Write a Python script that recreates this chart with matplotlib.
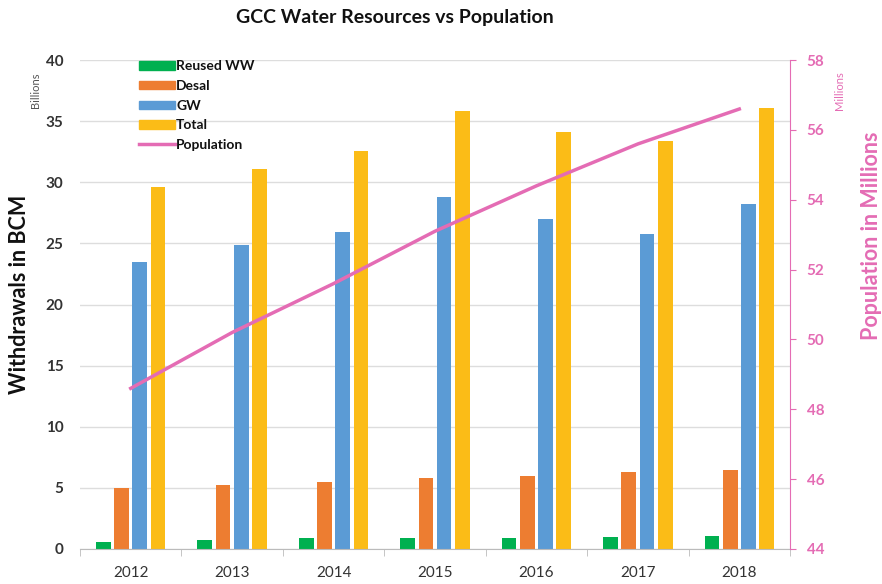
import numpy as np
import matplotlib.pyplot as plt
from matplotlib.patches import Patch
from matplotlib.lines import Line2D

plt.rcParams['font.family'] = ['Lato', 'DejaVu Sans']

# data
years = ['2012', '2013', '2014', '2015', '2016', '2017', '2018']
reused_ww = [0.6, 0.7, 0.9, 0.9, 0.9, 1.0, 1.1]
desal = [5.0, 5.2, 5.5, 5.8, 6.0, 6.3, 6.5]
gw = [23.5, 24.9, 25.9, 28.8, 27.0, 25.8, 28.2]
total = [29.6, 31.1, 32.6, 35.8, 34.1, 33.4, 36.1]
population = [48.6, 50.2, 51.6, 53.1, 54.4, 55.6, 56.6]

series = [('Reused WW', reused_ww, '#00B050'),
          ('Desal', desal, '#ED7D31'),
          ('GW', gw, '#5B9BD5'),
          ('Total', total, '#FBBC17')]
pink = '#E46CB4'
txt = '#333333'

fig = plt.figure(figsize=(8.82, 5.84), dpi=100)
ax = fig.add_axes([0.0907, 0.06, 0.805, 0.837])
x = np.arange(len(years))
step, width = 0.18, 0.145
for i, (name, vals, col) in enumerate(series):
    ax.bar(x + (i - 1.5) * step, vals, width, color=col, zorder=2)

ax.set_xlim(-0.5, 6.5)
ax.set_ylim(0, 40)
ax.set_yticks(range(0, 41, 5))
ax.grid(axis='y', color='#dddddd', linewidth=1, zorder=0)
ax.set_xticks(x)
ax.set_xticklabels(years, fontsize=11, color=txt)
ax.set_xticks(np.arange(-0.5, 7, 1), minor=True)
ax.tick_params(axis='x', which='major', length=0, pad=12)
ax.tick_params(axis='x', which='minor', length=5, color='#bbbbbb')
ax.tick_params(axis='y', length=0, labelsize=11, labelcolor=txt, pad=12)
for lbl in ax.get_yticklabels():
    lbl.set_fontweight('bold')
for s in ['top', 'left', 'right']:
    ax.spines[s].set_visible(False)
ax.spines['bottom'].set_color('#bbbbbb')
ax.set_ylabel('Withdrawals in BCM', fontsize=15.5, fontweight='bold', color='#111111')
ax.yaxis.set_label_coords(-0.07, 0.52)
fig.text(0.04, 0.845, 'Billions', rotation=90, fontsize=8, color='#555555', ha='center', va='center')

ax2 = ax.twinx()
ax2.plot(x, population, color=pink, linewidth=2.5, zorder=3)
ax2.set_ylim(44, 58)
ax2.set_yticks(range(44, 59, 2))
ax2.tick_params(axis='y', colors=pink, labelsize=11, length=4, pad=8)
for lbl in ax2.get_yticklabels():
    lbl.set_fontweight('bold')
for s in ['top', 'left', 'bottom']:
    ax2.spines[s].set_visible(False)
ax2.spines['right'].set_color(pink)
ax2.set_ylabel('Population in Millions', fontsize=15.5, fontweight='bold', color=pink)
ax2.yaxis.set_label_coords(1.1, 0.64)
fig.text(0.952, 0.845, 'Millions', rotation=90, fontsize=8, color=pink, ha='center', va='center')

handles = [Patch(color=col, label=name) for name, _, col in series]
handles.append(Line2D([0], [0], color=pink, linewidth=2.5, label='Population'))
leg = ax2.legend(handles=handles, loc='upper left', bbox_to_anchor=(0.065, 1.025),
                 frameon=False, handlelength=2.6, handleheight=0.55,
                 handletextpad=0.1, labelspacing=0.55, prop={'weight': 'bold', 'size': 10})
for t in leg.get_texts():
    t.set_color('#111111')

fig.suptitle('GCC Water Resources vs Population', x=0.448, y=0.985,
             fontsize=14, fontweight='bold', color='#111111')

fig.savefig('out.png', dpi=100)
